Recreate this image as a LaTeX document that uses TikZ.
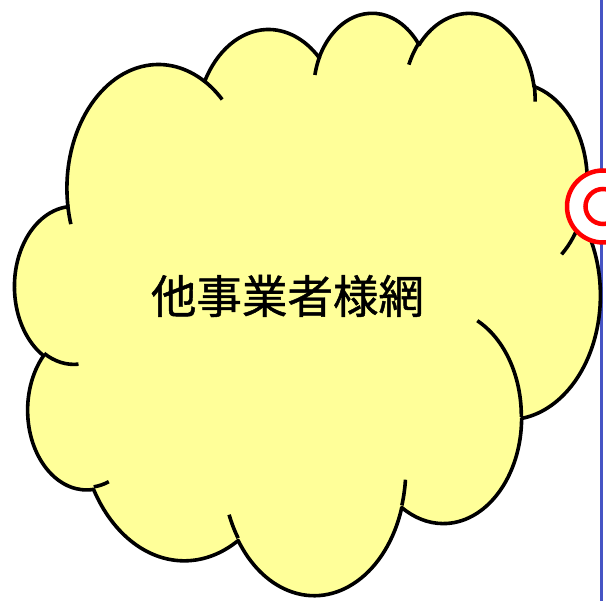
\documentclass[tikz,border=0pt]{standalone}
\usepackage{fontspec}
\newfontfamily\cjk{Noto Sans CJK JP}[FakeBold=1]
\definecolor{cloudfill}{RGB}{255,255,153}
\definecolor{edgeblue}{RGB}{70,84,196}
\definecolor{ringred}{RGB}{255,0,0}
\tikzset{
  carc/.style n args={4}{x radius=#1, y radius=#2,
    start angle={atan2(#1*sin(#3),#2*cos(#3))},
    delta angle={mod(atan2(#1*sin(#3+#4),#2*cos(#3+#4))-atan2(#1*sin(#3),#2*cos(#3))+720,360)}},
  cloudline/.style={draw=black, line width=3.6pt, line cap=butt, line join=round},
  ring/.style={draw=ringred, line width=4.5pt, fill=white},
}
\begin{document}
\begin{tikzpicture}[x=1pt,y=-1pt]
\useasboundingbox (0,0) rectangle (606,601);
\clip (0,0) rectangle (606,601);
\fill[white] (0,0) rectangle (606,601);
% right blue border
\draw[edgeblue, line width=2.2pt] (601.5,-2) -- (601.5,603);
\begin{scope}[shift={(14.93pt,-11.37pt)}, x=13.547pt, y=-13.477pt]
  % cloud outline
  \path[cloudline, fill=cloudfill] (3.900,14.370)
    arc[carc={6.753}{9.190}{-190.4875}{123.7805}]
    arc[carc={5.333}{7.267}{-144.1024}{89.9452}]
    arc[carc={4.365}{5.945}{-145.8079}{99.7230}]
    arc[carc={4.857}{6.595}{-130.9861}{117.2417}]
    arc[carc={5.333}{7.273}{-78.7089}{109.0269}]
    arc[carc={6.775}{9.220}{-46.2673}{130.2690}]
    arc[carc={5.785}{7.867}{0.6250}{114.0333}]
    arc[carc={6.752}{9.215}{22.4516}{115.1726}]
    arc[carc={7.720}{10.543}{66.2426}{75.7110}]
    arc[carc={4.360}{5.918}{-274.9421}{146.7356}]
    arc[carc={4.345}{5.945}{-246.8285}{152.5189}]
    -- cycle;
  % inner arcs
  \draw[cloudline]
    (4.693,26.177) arc[carc={4.345}{5.945}{86.7420}{26.4295}]
    (6.928,34.899) arc[carc={4.360}{5.918}{73.6105}{11.4475}]
    (16.478,39.090) arc[carc={6.752}{9.215}{137.6242}{14.0811}]
    (28.827,34.751) arc[carc={6.752}{9.215}{6.4533}{15.9984}]
    (34.129,22.954) arc[carc={5.785}{7.867}{-70.2924}{70.9174}]
    (41.798,15.354) arc[carc={5.333}{7.273}{30.3180}{27.7515}]
    (38.324,5.426) arc[carc={4.857}{6.595}{-13.7443}{14.8589}]
    (29.078,3.952) arc[carc={4.857}{6.595}{-149.1815}{18.1954}]
    (22.141,4.720) arc[carc={4.365}{5.945}{-163.4943}{17.6864}]
    (14.000,5.192) arc[carc={6.753}{9.190}{-66.7070}{12.3194}]
    (4.127,15.789) arc[carc={6.753}{9.190}{157.6544}{11.8582}];
\end{scope}
% label
\node[inner sep=0pt, font=\cjk\fontsize{45.5}{50}\selectfont] (label) at (287.5,296) {他事業者様網};
% red target rings on the right edge
\draw[ring] (603,206.5) circle[radius=36];
\draw[ring] (603,206.5) circle[radius=17.5];
\end{tikzpicture}
\end{document}
